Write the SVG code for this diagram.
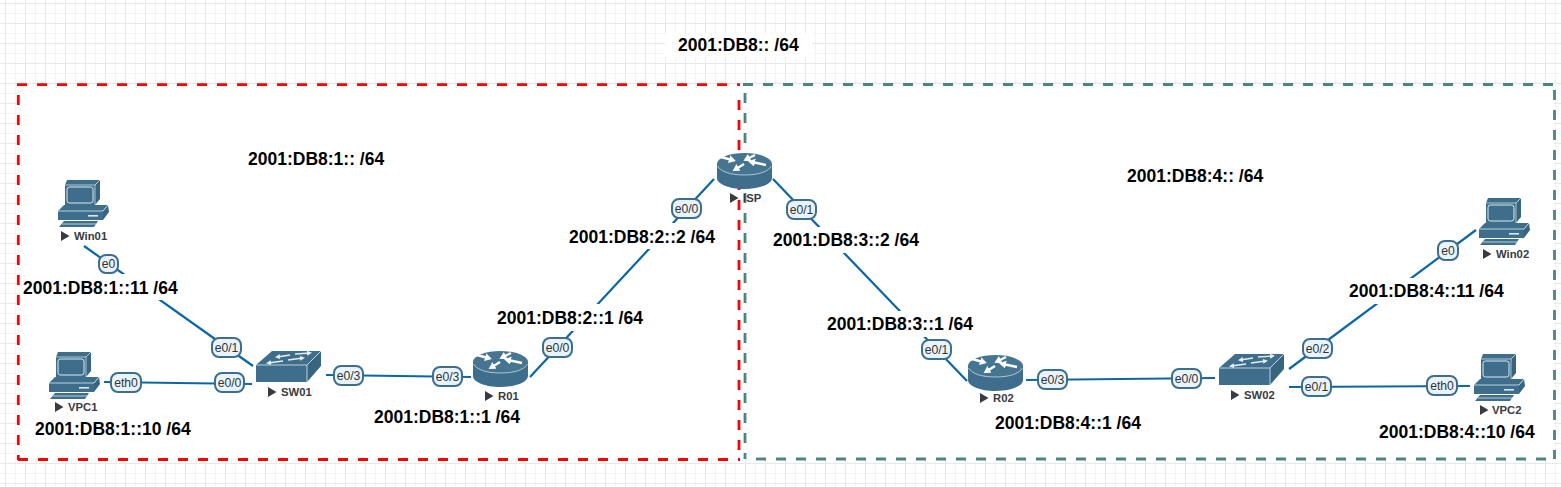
<svg xmlns="http://www.w3.org/2000/svg" width="1561" height="487" viewBox="0 0 1561 487">
<style>
.link{stroke:#0a66a5;stroke-width:2.2;fill:none}
.pill{fill:#e8f3fc;stroke:#3e6e8e;stroke-width:2}
.ptxt{font:12.2px "Liberation Sans",Arial,sans-serif;fill:#333;text-anchor:middle}
.addr{font:bold 17.5px "Liberation Sans",Arial,sans-serif;fill:#000}
.name{font:bold 11.3px "Liberation Sans",Arial,sans-serif;fill:#3a3a42}
.tri{fill:#3a3a42}
.b{fill:#3e6e8c}
.d{fill:#376580}
.l{fill:none;stroke:#dbe9f0;stroke-width:1}
.w{fill:#fff}
.red{stroke:#f00;stroke-width:2.800;stroke-dasharray:10 10;fill:none}
.grn{stroke:#4a8580;stroke-width:2.800;stroke-dasharray:10 10;fill:none}
.ar{stroke:#fff;stroke-width:2.400;fill:none;marker-end:url(#tip)}
.as{stroke:#e6eff5;stroke-width:1.300;fill:none;marker-end:url(#tip2)}
</style>
<defs>
<marker id="tip" markerUnits="userSpaceOnUse" markerWidth="8" markerHeight="9" refX="3" refY="4" orient="auto"><path d="M0 0L7 4L0 8Z" fill="#fff"/></marker>
<marker id="tip2" markerUnits="userSpaceOnUse" markerWidth="7" markerHeight="7" refX="3" refY="2.500" orient="auto"><path d="M0 0L5 2.500L0 5Z" fill="#e6eff5"/></marker>
<pattern id="grid" width="20" height="20" patternUnits="userSpaceOnUse" x="5" y="3">
<path d="M10.5 0V20M0 10.5H20" stroke="#f4f4f4" stroke-width="1" fill="none"/>
<path d="M.5 0V20M0 .5H20" stroke="#e8e8e8" stroke-width="1" fill="none"/>
</pattern>
<symbol id="pc" width="52" height="48" viewBox="0 0 52 48" overflow="visible">
<polygon class="b" points="9,0 42,0 37,5 7,5"/>
<polygon class="d" points="37,5 42,0 42,19 37,25"/>
<rect class="b" x="7" y="5" width="30" height="20"/>
<path d="M7 5H37L42 0M37 5V25" fill="none" stroke="#dbe9f0" stroke-width=".7"/>
<rect class="l" x="9" y="7" width="26" height="16" rx="2.500"/>
<polygon class="b" points="0,31 6,25 50,25 45,31"/>
<polygon class="d" points="45,31 50,25 51,32 45,40"/>
<rect class="b" x="0" y="31" width="45" height="9"/>
<path d="M0 31H45L50 25" fill="none" stroke="#dbe9f0" stroke-width=".8"/>
<rect x="30" y="35" width="10" height="1.600" fill="#dbe9f0"/>
<polygon class="b" points="6,41 40,41 36,47 1,47"/>
<path d="M4 44H38" stroke="#dbe9f0" stroke-width=".8"/>
</symbol>
<symbol id="router" width="55" height="36" viewBox="0 0 55 36" overflow="visible">
<path class="b" d="M0 11V25C0 31 12 36 27.500 36S55 31 55 25V11Z"/>
<ellipse cx="27.500" cy="11" rx="27.500" ry="11" fill="#467592"/>
<path d="M.5 13C4 19 14 22 27.500 22S51 19 54.500 13" fill="none" stroke="#dbe9f0" stroke-width=".7"/>
<path class="ar" d="M4 4L15 7"/>
<path class="ar" d="M38 2L30 6"/>
<path class="ar" d="M49 12L35 9"/>
<path class="ar" d="M27 11L19 16"/>
</symbol>
<symbol id="switch" width="66" height="32" viewBox="0 0 66 32" overflow="visible">
<polygon class="b" points="0,14 16,0 65,0 51,14"/>
<rect x="0" y="14" width="51" height="17" fill="#3e6e8c"/>
<polygon class="d" points="51,14 65,0 65,15 51,31"/>
<path d="M0 14H51L65 0M51 14V31" fill="none" stroke="#dbe9f0" stroke-width=".8"/>
<path class="as" d="M34 4L21 6"/>
<path class="as" d="M39 3L54 2"/>
<path class="as" d="M27 10L12 12"/>
<path class="as" d="M32 9L47 7"/>
</symbol>
<polygon id="play" class="tri" points="0,-5 8.500,0 0,5"/>
</defs>
<rect width="1561" height="487" fill="#fff"/>
<rect width="1561" height="487" fill="url(#grid)"/>
<rect x="18" y="85" width="1536" height="374" fill="#fff"/>
<rect x="665" y="33" width="147" height="24" fill="#fff"/>
<g id="zones">
<path class="grn" d="M743 84.500H1555"/>
<path class="grn" d="M1554.500 90V459"/>
<path class="grn" d="M745 93V459"/>
<path class="grn" d="M756 459H1555"/>
<path class="red" d="M17 84.700H740"/>
<path class="red" d="M739 100V460"/>
<path class="red" d="M18.300 95V460"/>
<path class="red" d="M18 459.500H740"/>
</g>
<g id="connectors">
<line class="link" x1="84" y1="246" x2="253" y2="366"/>
<line class="link" x1="104" y1="382" x2="252" y2="384"/>
<line class="link" x1="326" y1="375" x2="471" y2="377"/>
<line class="link" x1="530" y1="377" x2="714" y2="179"/>
<line class="link" x1="773" y1="179" x2="967" y2="381"/>
<line class="link" x1="1026" y1="380" x2="1215" y2="378"/>
<line class="link" x1="1289" y1="369" x2="1476" y2="230"/>
<line class="link" x1="1289" y1="387" x2="1470" y2="386"/>
</g>
<g id="Win01"><use href="#pc" x="58" y="180"/><use href="#play" x="61" y="236"/><text class="name" x="74" y="240">Win01</text></g>
<g id="VPC1"><use href="#pc" x="49" y="352"/><use href="#play" x="55" y="407"/><text class="name" x="68" y="411">VPC1</text></g>
<g id="SW01"><use href="#switch" x="256" y="351"/><use href="#play" x="268" y="392"/><text class="name" x="281" y="396">SW01</text></g>
<g id="R01"><use href="#router" x="473" y="351"/><use href="#play" x="485" y="396"/><text class="name" x="498" y="400">R01</text></g>
<g id="ISP"><use href="#router" x="717" y="153"/><use href="#play" x="730" y="198"/><text class="name" x="743" y="202">ISP</text></g>
<g id="R02"><use href="#router" x="968" y="355"/><use href="#play" x="980" y="398"/><text class="name" x="993" y="402">R02</text></g>
<g id="SW02"><use href="#switch" x="1219" y="354"/><use href="#play" x="1231" y="395"/><text class="name" x="1244" y="399">SW02</text></g>
<g id="Win02"><use href="#pc" x="1479" y="198"/><use href="#play" x="1483" y="254"/><text class="name" x="1496" y="258">Win02</text></g>
<g id="VPC2"><use href="#pc" x="1474" y="354"/><use href="#play" x="1480" y="410"/><text class="name" x="1492" y="414">VPC2</text></g>
<g id="ports">
<rect class="pill" x="99" y="255" width="19" height="18" rx="7"/><text class="ptxt" x="108.500" y="268">e0</text>
<rect class="pill" x="212" y="338" width="29" height="19" rx="7"/><text class="ptxt" x="226.500" y="352">e0/1</text>
<rect class="pill" x="111" y="373" width="30" height="19" rx="7"/><text class="ptxt" x="126" y="386.500">eth0</text>
<rect class="pill" x="215" y="373" width="29" height="19" rx="7"/><text class="ptxt" x="229.500" y="386.500">e0/0</text>
<rect class="pill" x="334" y="366" width="29" height="19" rx="7"/><text class="ptxt" x="348.500" y="379.500">e0/3</text>
<rect class="pill" x="433" y="367" width="29" height="19" rx="7"/><text class="ptxt" x="447.500" y="380.500">e0/3</text>
<rect class="pill" x="543" y="338" width="29" height="19" rx="7"/><text class="ptxt" x="557.500" y="351.500">e0/0</text>
<rect class="pill" x="672" y="199" width="29" height="19" rx="7"/><text class="ptxt" x="686.500" y="212.500">e0/0</text>
<rect class="pill" x="787" y="200" width="29" height="19" rx="7"/><text class="ptxt" x="801.500" y="213.500">e0/1</text>
<rect class="pill" x="922" y="340" width="29" height="19" rx="7"/><text class="ptxt" x="936.500" y="353.500">e0/1</text>
<rect class="pill" x="1038" y="370" width="29" height="19" rx="7"/><text class="ptxt" x="1052.500" y="383.500">e0/3</text>
<rect class="pill" x="1172" y="369" width="29" height="19" rx="7"/><text class="ptxt" x="1186.500" y="382.500">e0/0</text>
<rect class="pill" x="1303" y="339" width="29" height="19" rx="7"/><text class="ptxt" x="1317.500" y="352.500">e0/2</text>
<rect class="pill" x="1302" y="377" width="29" height="19" rx="7"/><text class="ptxt" x="1316.500" y="390.500">e0/1</text>
<rect class="pill" x="1427" y="376" width="30" height="19" rx="7"/><text class="ptxt" x="1442" y="389.500">eth0</text>
<rect class="pill" x="1438" y="241" width="20" height="19" rx="7"/><text class="ptxt" x="1448" y="254.500">e0</text>
</g>
<g id="addresses">
<g class="w">
<rect x="21" y="274" width="159" height="26"/>
<rect x="567" y="223" width="150" height="26"/>
<rect x="495" y="304" width="150" height="27"/>
<rect x="771" y="227" width="150" height="26"/>
<rect x="825" y="311" width="150" height="26"/>
<rect x="1347" y="278" width="158" height="26"/>
</g>
<text class="addr" x="678" y="51">2001:DB8:: /64</text>
<text class="addr" x="248" y="165">2001:DB8:1:: /64</text>
<text class="addr" x="1127" y="182">2001:DB8:4:: /64</text>
<text class="addr" x="23" y="294">2001:DB8:1::11 /64</text>
<text class="addr" x="35" y="435">2001:DB8:1::10 /64</text>
<text class="addr" x="374" y="423">2001:DB8:1::1 /64</text>
<text class="addr" x="569" y="243">2001:DB8:2::2 /64</text>
<text class="addr" x="497" y="324">2001:DB8:2::1 /64</text>
<text class="addr" x="773" y="246">2001:DB8:3::2 /64</text>
<text class="addr" x="827" y="330">2001:DB8:3::1 /64</text>
<text class="addr" x="995" y="429">2001:DB8:4::1 /64</text>
<text class="addr" x="1349" y="297">2001:DB8:4::11 /64</text>
<text class="addr" x="1379" y="438">2001:DB8:4::10 /64</text>
</g>
</svg>
